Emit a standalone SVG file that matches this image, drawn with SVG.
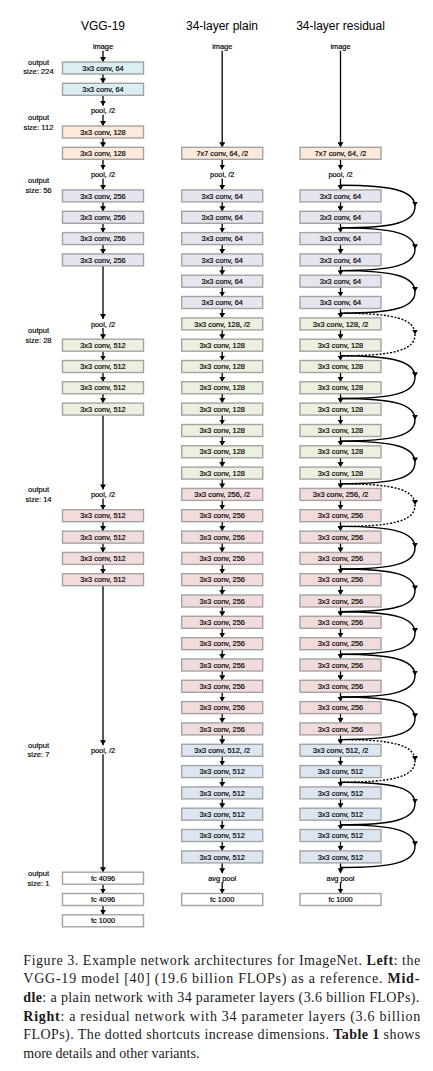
<svg xmlns="http://www.w3.org/2000/svg" width="433" height="1071" viewBox="0 0 433 1071">
<style>
.b{stroke:#a3a3a3;stroke-width:1.4}
.t{font-family:"Liberation Sans",Arial,sans-serif;font-size:7.4px;text-anchor:middle;fill:#000;stroke:#000;stroke-width:0.18}
.ttl{font-family:"Liberation Sans",Arial,sans-serif;font-size:12px;text-anchor:middle;fill:#000}
.os{font-family:"Liberation Sans",Arial,sans-serif;font-size:7.6px;text-anchor:middle;fill:#000;stroke:#000;stroke-width:0.15}
.cap{font-family:"Liberation Serif","Times New Roman",serif;font-size:14px;fill:#1a1a1a}
.c224{fill:#DAEEF3}.c112{fill:#FDE9D9}.c56{fill:#E6E4EE}.c28{fill:#EBF1DE}.c14{fill:#F2DCDB}.c7{fill:#DCE6F2}.c1{fill:#fff}
.a{stroke:#000;stroke-width:1.3;fill:none;marker-end:url(#ah)}
.s{stroke:#000;stroke-width:1.4;fill:none;marker-mid:url(#ah)}
.d{stroke-dasharray:2 1.6}
</style>
<defs>
<marker id="ah" viewBox="0 0 10 12" refX="10" refY="6" markerWidth="5" markerHeight="6" markerUnits="userSpaceOnUse" orient="auto"><path d="M0,0 L10,6 L0,12 z" fill="#000"/></marker>
</defs>
<rect width="433" height="1071" fill="#fff"/>
<g id="titles">
<text class="ttl" x="103" y="30">VGG-19</text>
<text class="ttl" x="222" y="30">34-layer plain</text>
<text class="ttl" x="340.5" y="30">34-layer residual</text>
</g>
<g id="output-sizes">
<text class="os" x="38.5" y="65">output</text><text class="os" x="38.5" y="74.4">size: 224</text>
<text class="os" x="38.5" y="120">output</text><text class="os" x="38.5" y="130">size: 112</text>
<text class="os" x="38.5" y="183.4">output</text><text class="os" x="38.5" y="193.4">size: 56</text>
<text class="os" x="38.5" y="333.4">output</text><text class="os" x="38.5" y="343.4">size: 28</text>
<text class="os" x="38.5" y="492">output</text><text class="os" x="38.5" y="501.7">size: 14</text>
<text class="os" x="38.5" y="748">output</text><text class="os" x="38.5" y="757.4">size: 7</text>
<text class="os" x="38.5" y="876.4">output</text><text class="os" x="38.5" y="886">size: 1</text>
</g>
<g id="connectors">
<line class="a" x1="103" y1="50.7" x2="103" y2="62"/>
<line class="a" x1="103" y1="74" x2="103" y2="83.3"/>
<line class="a" x1="103" y1="95.3" x2="103" y2="105.7"/>
<line class="a" x1="103" y1="114.7" x2="103" y2="126"/>
<line class="a" x1="103" y1="138" x2="103" y2="147.3"/>
<line class="a" x1="103" y1="159.3" x2="103" y2="169.6"/>
<line class="a" x1="103" y1="178.6" x2="103" y2="189.9"/>
<line class="a" x1="103" y1="201.9" x2="103" y2="211.3"/>
<line class="a" x1="103" y1="223.3" x2="103" y2="232.6"/>
<line class="a" x1="103" y1="244.6" x2="103" y2="253.9"/>
<line class="a" x1="103" y1="265.9" x2="103" y2="318.9"/>
<line class="a" x1="103" y1="327.9" x2="103" y2="339.2"/>
<line class="a" x1="103" y1="351.2" x2="103" y2="360.5"/>
<line class="a" x1="103" y1="372.5" x2="103" y2="381.8"/>
<line class="a" x1="103" y1="393.8" x2="103" y2="403.1"/>
<line class="a" x1="103" y1="415.1" x2="103" y2="489.4"/>
<line class="a" x1="103" y1="498.4" x2="103" y2="509.7"/>
<line class="a" x1="103" y1="521.7" x2="103" y2="531.1"/>
<line class="a" x1="103" y1="543.1" x2="103" y2="552.4"/>
<line class="a" x1="103" y1="564.4" x2="103" y2="573.7"/>
<line class="a" x1="103" y1="585.7" x2="103" y2="745.3"/>
<line class="a" x1="103" y1="754.3" x2="103" y2="872.2"/>
<line class="a" x1="103" y1="884.2" x2="103" y2="893.5"/>
<line class="a" x1="103" y1="905.5" x2="103" y2="914.8"/>
<line class="a" x1="222.2" y1="50.7" x2="222.2" y2="147.3"/>
<line class="a" x1="222.2" y1="159.3" x2="222.2" y2="169.6"/>
<line class="a" x1="222.2" y1="178.6" x2="222.2" y2="189.9"/>
<line class="a" x1="222.2" y1="201.9" x2="222.2" y2="211.3"/>
<line class="a" x1="222.2" y1="223.3" x2="222.2" y2="232.6"/>
<line class="a" x1="222.2" y1="244.6" x2="222.2" y2="253.9"/>
<line class="a" x1="222.2" y1="265.9" x2="222.2" y2="275.2"/>
<line class="a" x1="222.2" y1="287.2" x2="222.2" y2="296.5"/>
<line class="a" x1="222.2" y1="308.5" x2="222.2" y2="317.9"/>
<line class="a" x1="222.2" y1="329.9" x2="222.2" y2="339.2"/>
<line class="a" x1="222.2" y1="351.2" x2="222.2" y2="360.5"/>
<line class="a" x1="222.2" y1="372.5" x2="222.2" y2="381.8"/>
<line class="a" x1="222.2" y1="393.8" x2="222.2" y2="403.1"/>
<line class="a" x1="222.2" y1="415.1" x2="222.2" y2="424.5"/>
<line class="a" x1="222.2" y1="436.5" x2="222.2" y2="445.8"/>
<line class="a" x1="222.2" y1="457.8" x2="222.2" y2="467.1"/>
<line class="a" x1="222.2" y1="479.1" x2="222.2" y2="488.4"/>
<line class="a" x1="222.2" y1="500.4" x2="222.2" y2="509.7"/>
<line class="a" x1="222.2" y1="521.7" x2="222.2" y2="531.1"/>
<line class="a" x1="222.2" y1="543.1" x2="222.2" y2="552.4"/>
<line class="a" x1="222.2" y1="564.4" x2="222.2" y2="573.7"/>
<line class="a" x1="222.2" y1="585.7" x2="222.2" y2="595"/>
<line class="a" x1="222.2" y1="607" x2="222.2" y2="616.3"/>
<line class="a" x1="222.2" y1="628.3" x2="222.2" y2="637.7"/>
<line class="a" x1="222.2" y1="649.7" x2="222.2" y2="659"/>
<line class="a" x1="222.2" y1="671" x2="222.2" y2="680.3"/>
<line class="a" x1="222.2" y1="692.3" x2="222.2" y2="701.6"/>
<line class="a" x1="222.2" y1="713.6" x2="222.2" y2="722.9"/>
<line class="a" x1="222.2" y1="734.9" x2="222.2" y2="744.3"/>
<line class="a" x1="222.2" y1="756.3" x2="222.2" y2="765.6"/>
<line class="a" x1="222.2" y1="777.6" x2="222.2" y2="786.9"/>
<line class="a" x1="222.2" y1="798.9" x2="222.2" y2="808.2"/>
<line class="a" x1="222.2" y1="820.2" x2="222.2" y2="829.5"/>
<line class="a" x1="222.2" y1="841.5" x2="222.2" y2="850.9"/>
<line class="a" x1="222.2" y1="862.9" x2="222.2" y2="873.2"/>
<line class="a" x1="222.2" y1="882.2" x2="222.2" y2="893.5"/>
<line class="a" x1="340.5" y1="50.7" x2="340.5" y2="147.3"/>
<line class="a" x1="340.5" y1="159.3" x2="340.5" y2="169.6"/>
<line class="a" x1="340.5" y1="178.6" x2="340.5" y2="189.9"/>
<line class="a" x1="340.5" y1="201.9" x2="340.5" y2="211.3"/>
<line class="a" x1="340.5" y1="223.3" x2="340.5" y2="232.6"/>
<line class="a" x1="340.5" y1="244.6" x2="340.5" y2="253.9"/>
<line class="a" x1="340.5" y1="265.9" x2="340.5" y2="275.2"/>
<line class="a" x1="340.5" y1="287.2" x2="340.5" y2="296.5"/>
<line class="a" x1="340.5" y1="308.5" x2="340.5" y2="317.9"/>
<line class="a" x1="340.5" y1="329.9" x2="340.5" y2="339.2"/>
<line class="a" x1="340.5" y1="351.2" x2="340.5" y2="360.5"/>
<line class="a" x1="340.5" y1="372.5" x2="340.5" y2="381.8"/>
<line class="a" x1="340.5" y1="393.8" x2="340.5" y2="403.1"/>
<line class="a" x1="340.5" y1="415.1" x2="340.5" y2="424.5"/>
<line class="a" x1="340.5" y1="436.5" x2="340.5" y2="445.8"/>
<line class="a" x1="340.5" y1="457.8" x2="340.5" y2="467.1"/>
<line class="a" x1="340.5" y1="479.1" x2="340.5" y2="488.4"/>
<line class="a" x1="340.5" y1="500.4" x2="340.5" y2="509.7"/>
<line class="a" x1="340.5" y1="521.7" x2="340.5" y2="531.1"/>
<line class="a" x1="340.5" y1="543.1" x2="340.5" y2="552.4"/>
<line class="a" x1="340.5" y1="564.4" x2="340.5" y2="573.7"/>
<line class="a" x1="340.5" y1="585.7" x2="340.5" y2="595"/>
<line class="a" x1="340.5" y1="607" x2="340.5" y2="616.3"/>
<line class="a" x1="340.5" y1="628.3" x2="340.5" y2="637.7"/>
<line class="a" x1="340.5" y1="649.7" x2="340.5" y2="659"/>
<line class="a" x1="340.5" y1="671" x2="340.5" y2="680.3"/>
<line class="a" x1="340.5" y1="692.3" x2="340.5" y2="701.6"/>
<line class="a" x1="340.5" y1="713.6" x2="340.5" y2="722.9"/>
<line class="a" x1="340.5" y1="734.9" x2="340.5" y2="744.3"/>
<line class="a" x1="340.5" y1="756.3" x2="340.5" y2="765.6"/>
<line class="a" x1="340.5" y1="777.6" x2="340.5" y2="786.9"/>
<line class="a" x1="340.5" y1="798.9" x2="340.5" y2="808.2"/>
<line class="a" x1="340.5" y1="820.2" x2="340.5" y2="829.5"/>
<line class="a" x1="340.5" y1="841.5" x2="340.5" y2="850.9"/>
<line class="a" x1="340.5" y1="862.9" x2="340.5" y2="873.2"/>
<line class="a" x1="340.5" y1="882.2" x2="340.5" y2="893.5"/>
<path class="s" d="M340.5,185.3 C395,185.3 415,191.3 415,206.6 C415,221.9 395,227.9 340.5,227.9"/>
<path class="s" d="M340.5,227.9 C395,227.9 415,233.9 415,249.2 C415,264.6 395,270.6 340.5,270.6"/>
<path class="s" d="M340.5,270.6 C395,270.6 415,276.6 415,291.9 C415,307.2 395,313.2 340.5,313.2"/>
<path class="s d" d="M340.5,313.2 C395,313.2 415,319.2 415,334.5 C415,349.8 395,355.8 340.5,355.8"/>
<path class="s" d="M340.5,355.8 C395,355.8 415,361.8 415,377.2 C415,392.5 395,398.5 340.5,398.5"/>
<path class="s" d="M340.5,398.5 C395,398.5 415,404.5 415,419.8 C415,435.1 395,441.1 340.5,441.1"/>
<path class="s" d="M340.5,441.1 C395,441.1 415,447.1 415,462.4 C415,477.8 395,483.8 340.5,483.8"/>
<path class="s d" d="M340.5,483.8 C395,483.8 415,489.8 415,505.1 C415,520.4 395,526.4 340.5,526.4"/>
<path class="s" d="M340.5,526.4 C395,526.4 415,532.4 415,547.7 C415,563 395,569 340.5,569"/>
<path class="s" d="M340.5,569 C395,569 415,575 415,590.4 C415,605.7 395,611.7 340.5,611.7"/>
<path class="s" d="M340.5,611.7 C395,611.7 415,617.7 415,633 C415,648.3 395,654.3 340.5,654.3"/>
<path class="s" d="M340.5,654.3 C395,654.3 415,660.3 415,675.6 C415,691 395,697 340.5,697"/>
<path class="s" d="M340.5,697 C395,697 415,703 415,718.3 C415,733.6 395,739.6 340.5,739.6"/>
<path class="s d" d="M340.5,739.6 C395,739.6 415,745.6 415,760.9 C415,776.2 395,782.2 340.5,782.2"/>
<path class="s" d="M340.5,782.2 C395,782.2 415,788.2 415,803.6 C415,818.9 395,824.9 340.5,824.9"/>
<path class="s" d="M340.5,824.9 C395,824.9 415,830.9 415,846.2 C415,861.5 395,867.5 340.5,867.5"/>
</g>
<g id="vgg-image"><text class="t" x="103" y="49.3">image</text></g>
<g id="vgg-conv64-1"><rect class="b c224" x="62.5" y="62" width="81" height="12"/><text class="t" x="103" y="70.6">3x3 conv, 64</text></g>
<g id="vgg-conv64-2"><rect class="b c224" x="62.5" y="83.3" width="81" height="12"/><text class="t" x="103" y="91.9">3x3 conv, 64</text></g>
<g id="vgg-pool1"><text class="t" x="103" y="113.3">pool, /2</text></g>
<g id="vgg-conv128-1"><rect class="b c112" x="62.5" y="126" width="81" height="12"/><text class="t" x="103" y="134.6">3x3 conv, 128</text></g>
<g id="vgg-conv128-2"><rect class="b c112" x="62.5" y="147.3" width="81" height="12"/><text class="t" x="103" y="155.9">3x3 conv, 128</text></g>
<g id="vgg-pool2"><text class="t" x="103" y="177.2">pool, /2</text></g>
<g id="vgg-conv256-1"><rect class="b c56" x="62.5" y="189.9" width="81" height="12"/><text class="t" x="103" y="198.5">3x3 conv, 256</text></g>
<g id="vgg-conv256-2"><rect class="b c56" x="62.5" y="211.3" width="81" height="12"/><text class="t" x="103" y="219.9">3x3 conv, 256</text></g>
<g id="vgg-conv256-3"><rect class="b c56" x="62.5" y="232.6" width="81" height="12"/><text class="t" x="103" y="241.2">3x3 conv, 256</text></g>
<g id="vgg-conv256-4"><rect class="b c56" x="62.5" y="253.9" width="81" height="12"/><text class="t" x="103" y="262.5">3x3 conv, 256</text></g>
<g id="vgg-pool3"><text class="t" x="103" y="326.5">pool, /2</text></g>
<g id="vgg-conv512a-1"><rect class="b c28" x="62.5" y="339.2" width="81" height="12"/><text class="t" x="103" y="347.8">3x3 conv, 512</text></g>
<g id="vgg-conv512a-2"><rect class="b c28" x="62.5" y="360.5" width="81" height="12"/><text class="t" x="103" y="369.1">3x3 conv, 512</text></g>
<g id="vgg-conv512a-3"><rect class="b c28" x="62.5" y="381.8" width="81" height="12"/><text class="t" x="103" y="390.4">3x3 conv, 512</text></g>
<g id="vgg-conv512a-4"><rect class="b c28" x="62.5" y="403.1" width="81" height="12"/><text class="t" x="103" y="411.7">3x3 conv, 512</text></g>
<g id="vgg-pool4"><text class="t" x="103" y="497">pool, /2</text></g>
<g id="vgg-conv512b-1"><rect class="b c14" x="62.5" y="509.7" width="81" height="12"/><text class="t" x="103" y="518.3">3x3 conv, 512</text></g>
<g id="vgg-conv512b-2"><rect class="b c14" x="62.5" y="531.1" width="81" height="12"/><text class="t" x="103" y="539.7">3x3 conv, 512</text></g>
<g id="vgg-conv512b-3"><rect class="b c14" x="62.5" y="552.4" width="81" height="12"/><text class="t" x="103" y="561">3x3 conv, 512</text></g>
<g id="vgg-conv512b-4"><rect class="b c14" x="62.5" y="573.7" width="81" height="12"/><text class="t" x="103" y="582.3">3x3 conv, 512</text></g>
<g id="vgg-pool5"><text class="t" x="103" y="752.9">pool, /2</text></g>
<g id="vgg-fc1"><rect class="b c1" x="62.5" y="872.2" width="81" height="12"/><text class="t" x="103" y="880.8">fc 4096</text></g>
<g id="vgg-fc2"><rect class="b c1" x="62.5" y="893.5" width="81" height="12"/><text class="t" x="103" y="902.1">fc 4096</text></g>
<g id="vgg-fc3"><rect class="b c1" x="62.5" y="914.8" width="81" height="12"/><text class="t" x="103" y="923.4">fc 1000</text></g>
<g id="plain-image"><text class="t" x="222.2" y="49.3">image</text></g>
<g id="plain-conv1"><rect class="b c112" x="181.7" y="147.3" width="81" height="12"/><text class="t" x="222.2" y="155.9">7x7 conv, 64, /2</text></g>
<g id="plain-pool"><text class="t" x="222.2" y="177.2">pool, /2</text></g>
<g id="plain-c2"><rect class="b c56" x="181.7" y="189.9" width="81" height="12"/><text class="t" x="222.2" y="198.5">3x3 conv, 64</text></g>
<g id="plain-c3"><rect class="b c56" x="181.7" y="211.3" width="81" height="12"/><text class="t" x="222.2" y="219.9">3x3 conv, 64</text></g>
<g id="plain-c4"><rect class="b c56" x="181.7" y="232.6" width="81" height="12"/><text class="t" x="222.2" y="241.2">3x3 conv, 64</text></g>
<g id="plain-c5"><rect class="b c56" x="181.7" y="253.9" width="81" height="12"/><text class="t" x="222.2" y="262.5">3x3 conv, 64</text></g>
<g id="plain-c6"><rect class="b c56" x="181.7" y="275.2" width="81" height="12"/><text class="t" x="222.2" y="283.8">3x3 conv, 64</text></g>
<g id="plain-c7"><rect class="b c56" x="181.7" y="296.5" width="81" height="12"/><text class="t" x="222.2" y="305.1">3x3 conv, 64</text></g>
<g id="plain-c8"><rect class="b c28" x="181.7" y="317.9" width="81" height="12"/><text class="t" x="222.2" y="326.5">3x3 conv, 128, /2</text></g>
<g id="plain-c9"><rect class="b c28" x="181.7" y="339.2" width="81" height="12"/><text class="t" x="222.2" y="347.8">3x3 conv, 128</text></g>
<g id="plain-c10"><rect class="b c28" x="181.7" y="360.5" width="81" height="12"/><text class="t" x="222.2" y="369.1">3x3 conv, 128</text></g>
<g id="plain-c11"><rect class="b c28" x="181.7" y="381.8" width="81" height="12"/><text class="t" x="222.2" y="390.4">3x3 conv, 128</text></g>
<g id="plain-c12"><rect class="b c28" x="181.7" y="403.1" width="81" height="12"/><text class="t" x="222.2" y="411.7">3x3 conv, 128</text></g>
<g id="plain-c13"><rect class="b c28" x="181.7" y="424.5" width="81" height="12"/><text class="t" x="222.2" y="433.1">3x3 conv, 128</text></g>
<g id="plain-c14"><rect class="b c28" x="181.7" y="445.8" width="81" height="12"/><text class="t" x="222.2" y="454.4">3x3 conv, 128</text></g>
<g id="plain-c15"><rect class="b c28" x="181.7" y="467.1" width="81" height="12"/><text class="t" x="222.2" y="475.7">3x3 conv, 128</text></g>
<g id="plain-c16"><rect class="b c14" x="181.7" y="488.4" width="81" height="12"/><text class="t" x="222.2" y="497">3x3 conv, 256, /2</text></g>
<g id="plain-c17"><rect class="b c14" x="181.7" y="509.7" width="81" height="12"/><text class="t" x="222.2" y="518.3">3x3 conv, 256</text></g>
<g id="plain-c18"><rect class="b c14" x="181.7" y="531.1" width="81" height="12"/><text class="t" x="222.2" y="539.7">3x3 conv, 256</text></g>
<g id="plain-c19"><rect class="b c14" x="181.7" y="552.4" width="81" height="12"/><text class="t" x="222.2" y="561">3x3 conv, 256</text></g>
<g id="plain-c20"><rect class="b c14" x="181.7" y="573.7" width="81" height="12"/><text class="t" x="222.2" y="582.3">3x3 conv, 256</text></g>
<g id="plain-c21"><rect class="b c14" x="181.7" y="595" width="81" height="12"/><text class="t" x="222.2" y="603.6">3x3 conv, 256</text></g>
<g id="plain-c22"><rect class="b c14" x="181.7" y="616.3" width="81" height="12"/><text class="t" x="222.2" y="624.9">3x3 conv, 256</text></g>
<g id="plain-c23"><rect class="b c14" x="181.7" y="637.7" width="81" height="12"/><text class="t" x="222.2" y="646.3">3x3 conv, 256</text></g>
<g id="plain-c24"><rect class="b c14" x="181.7" y="659" width="81" height="12"/><text class="t" x="222.2" y="667.6">3x3 conv, 256</text></g>
<g id="plain-c25"><rect class="b c14" x="181.7" y="680.3" width="81" height="12"/><text class="t" x="222.2" y="688.9">3x3 conv, 256</text></g>
<g id="plain-c26"><rect class="b c14" x="181.7" y="701.6" width="81" height="12"/><text class="t" x="222.2" y="710.2">3x3 conv, 256</text></g>
<g id="plain-c27"><rect class="b c14" x="181.7" y="722.9" width="81" height="12"/><text class="t" x="222.2" y="731.5">3x3 conv, 256</text></g>
<g id="plain-c28"><rect class="b c7" x="181.7" y="744.3" width="81" height="12"/><text class="t" x="222.2" y="752.9">3x3 conv, 512, /2</text></g>
<g id="plain-c29"><rect class="b c7" x="181.7" y="765.6" width="81" height="12"/><text class="t" x="222.2" y="774.2">3x3 conv, 512</text></g>
<g id="plain-c30"><rect class="b c7" x="181.7" y="786.9" width="81" height="12"/><text class="t" x="222.2" y="795.5">3x3 conv, 512</text></g>
<g id="plain-c31"><rect class="b c7" x="181.7" y="808.2" width="81" height="12"/><text class="t" x="222.2" y="816.8">3x3 conv, 512</text></g>
<g id="plain-c32"><rect class="b c7" x="181.7" y="829.5" width="81" height="12"/><text class="t" x="222.2" y="838.1">3x3 conv, 512</text></g>
<g id="plain-c33"><rect class="b c7" x="181.7" y="850.9" width="81" height="12"/><text class="t" x="222.2" y="859.5">3x3 conv, 512</text></g>
<g id="plain-avgpool"><text class="t" x="222.2" y="880.8">avg pool</text></g>
<g id="plain-fc"><rect class="b c1" x="181.7" y="893.5" width="81" height="12"/><text class="t" x="222.2" y="902.1">fc 1000</text></g>
<g id="res-image"><text class="t" x="340.5" y="49.3">image</text></g>
<g id="res-conv1"><rect class="b c112" x="300" y="147.3" width="81" height="12"/><text class="t" x="340.5" y="155.9">7x7 conv, 64, /2</text></g>
<g id="res-pool"><text class="t" x="340.5" y="177.2">pool, /2</text></g>
<g id="res-c2"><rect class="b c56" x="300" y="189.9" width="81" height="12"/><text class="t" x="340.5" y="198.5">3x3 conv, 64</text></g>
<g id="res-c3"><rect class="b c56" x="300" y="211.3" width="81" height="12"/><text class="t" x="340.5" y="219.9">3x3 conv, 64</text></g>
<g id="res-c4"><rect class="b c56" x="300" y="232.6" width="81" height="12"/><text class="t" x="340.5" y="241.2">3x3 conv, 64</text></g>
<g id="res-c5"><rect class="b c56" x="300" y="253.9" width="81" height="12"/><text class="t" x="340.5" y="262.5">3x3 conv, 64</text></g>
<g id="res-c6"><rect class="b c56" x="300" y="275.2" width="81" height="12"/><text class="t" x="340.5" y="283.8">3x3 conv, 64</text></g>
<g id="res-c7"><rect class="b c56" x="300" y="296.5" width="81" height="12"/><text class="t" x="340.5" y="305.1">3x3 conv, 64</text></g>
<g id="res-c8"><rect class="b c28" x="300" y="317.9" width="81" height="12"/><text class="t" x="340.5" y="326.5">3x3 conv, 128, /2</text></g>
<g id="res-c9"><rect class="b c28" x="300" y="339.2" width="81" height="12"/><text class="t" x="340.5" y="347.8">3x3 conv, 128</text></g>
<g id="res-c10"><rect class="b c28" x="300" y="360.5" width="81" height="12"/><text class="t" x="340.5" y="369.1">3x3 conv, 128</text></g>
<g id="res-c11"><rect class="b c28" x="300" y="381.8" width="81" height="12"/><text class="t" x="340.5" y="390.4">3x3 conv, 128</text></g>
<g id="res-c12"><rect class="b c28" x="300" y="403.1" width="81" height="12"/><text class="t" x="340.5" y="411.7">3x3 conv, 128</text></g>
<g id="res-c13"><rect class="b c28" x="300" y="424.5" width="81" height="12"/><text class="t" x="340.5" y="433.1">3x3 conv, 128</text></g>
<g id="res-c14"><rect class="b c28" x="300" y="445.8" width="81" height="12"/><text class="t" x="340.5" y="454.4">3x3 conv, 128</text></g>
<g id="res-c15"><rect class="b c28" x="300" y="467.1" width="81" height="12"/><text class="t" x="340.5" y="475.7">3x3 conv, 128</text></g>
<g id="res-c16"><rect class="b c14" x="300" y="488.4" width="81" height="12"/><text class="t" x="340.5" y="497">3x3 conv, 256, /2</text></g>
<g id="res-c17"><rect class="b c14" x="300" y="509.7" width="81" height="12"/><text class="t" x="340.5" y="518.3">3x3 conv, 256</text></g>
<g id="res-c18"><rect class="b c14" x="300" y="531.1" width="81" height="12"/><text class="t" x="340.5" y="539.7">3x3 conv, 256</text></g>
<g id="res-c19"><rect class="b c14" x="300" y="552.4" width="81" height="12"/><text class="t" x="340.5" y="561">3x3 conv, 256</text></g>
<g id="res-c20"><rect class="b c14" x="300" y="573.7" width="81" height="12"/><text class="t" x="340.5" y="582.3">3x3 conv, 256</text></g>
<g id="res-c21"><rect class="b c14" x="300" y="595" width="81" height="12"/><text class="t" x="340.5" y="603.6">3x3 conv, 256</text></g>
<g id="res-c22"><rect class="b c14" x="300" y="616.3" width="81" height="12"/><text class="t" x="340.5" y="624.9">3x3 conv, 256</text></g>
<g id="res-c23"><rect class="b c14" x="300" y="637.7" width="81" height="12"/><text class="t" x="340.5" y="646.3">3x3 conv, 256</text></g>
<g id="res-c24"><rect class="b c14" x="300" y="659" width="81" height="12"/><text class="t" x="340.5" y="667.6">3x3 conv, 256</text></g>
<g id="res-c25"><rect class="b c14" x="300" y="680.3" width="81" height="12"/><text class="t" x="340.5" y="688.9">3x3 conv, 256</text></g>
<g id="res-c26"><rect class="b c14" x="300" y="701.6" width="81" height="12"/><text class="t" x="340.5" y="710.2">3x3 conv, 256</text></g>
<g id="res-c27"><rect class="b c14" x="300" y="722.9" width="81" height="12"/><text class="t" x="340.5" y="731.5">3x3 conv, 256</text></g>
<g id="res-c28"><rect class="b c7" x="300" y="744.3" width="81" height="12"/><text class="t" x="340.5" y="752.9">3x3 conv, 512, /2</text></g>
<g id="res-c29"><rect class="b c7" x="300" y="765.6" width="81" height="12"/><text class="t" x="340.5" y="774.2">3x3 conv, 512</text></g>
<g id="res-c30"><rect class="b c7" x="300" y="786.9" width="81" height="12"/><text class="t" x="340.5" y="795.5">3x3 conv, 512</text></g>
<g id="res-c31"><rect class="b c7" x="300" y="808.2" width="81" height="12"/><text class="t" x="340.5" y="816.8">3x3 conv, 512</text></g>
<g id="res-c32"><rect class="b c7" x="300" y="829.5" width="81" height="12"/><text class="t" x="340.5" y="838.1">3x3 conv, 512</text></g>
<g id="res-c33"><rect class="b c7" x="300" y="850.9" width="81" height="12"/><text class="t" x="340.5" y="859.5">3x3 conv, 512</text></g>
<g id="res-avgpool"><text class="t" x="340.5" y="880.8">avg pool</text></g>
<g id="res-fc"><rect class="b c1" x="300" y="893.5" width="81" height="12"/><text class="t" x="340.5" y="902.1">fc 1000</text></g>
<g id="caption">
<text class="cap" x="23.3" y="964.5" textLength="397" lengthAdjust="spacing">Figure 3. Example network architectures for ImageNet. <tspan font-weight="bold">Left</tspan>: the</text>
<text class="cap" x="23.3" y="983.2" textLength="396" lengthAdjust="spacing">VGG-19 model [40] (19.6 billion FLOPs) as a reference. <tspan font-weight="bold">Mid-</tspan></text>
<text class="cap" x="23.3" y="1001.9" textLength="396" lengthAdjust="spacing"><tspan font-weight="bold">dle</tspan>: a plain network with 34 parameter layers (3.6 billion FLOPs).</text>
<text class="cap" x="23.3" y="1020.6" textLength="397" lengthAdjust="spacing"><tspan font-weight="bold">Right</tspan>: a residual network with 34 parameter layers (3.6 billion</text>
<text class="cap" x="23.3" y="1039.3" textLength="397" lengthAdjust="spacing">FLOPs). The dotted shortcuts increase dimensions. <tspan font-weight="bold">Table 1</tspan> shows</text>
<text class="cap" x="23.3" y="1058">more details and other variants.</text>
</g>
</svg>
